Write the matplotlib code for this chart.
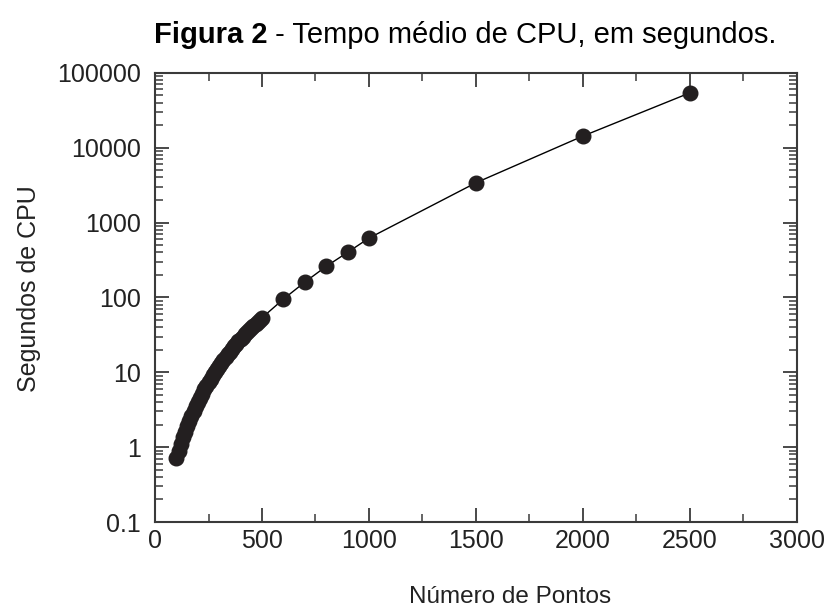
import matplotlib
matplotlib.use("Agg")
import matplotlib.pyplot as plt
from matplotlib.ticker import FixedLocator, FixedFormatter, LogLocator, NullFormatter, MultipleLocator

plt.rcParams['font.family'] = ['Liberation Sans', 'DejaVu Sans']

# dense part of the curve, 100..500 step 10
pontos_densos = list(range(100, 510, 10))
cpu_densos = [0.72, 0.9, 1.1, 1.35, 1.6, 1.9, 2.25, 2.6, 3.0, 3.5,
              4.0, 4.6, 5.2, 5.9, 6.6, 7.4, 8.2, 9.1, 10.1, 11.1,
              12.2, 13.4, 14.6, 16.0, 17.4, 18.9, 20.5, 22.2, 24.0, 25.9,
              27.9, 30.0, 32.2, 34.5, 36.9, 39.4, 42.0, 44.7, 47.5, 50.4, 53.5]
pontos_esparsos = [600, 700, 800, 900, 1000, 1500, 2000, 2500]
cpu_esparsos = [95, 160, 260, 400, 620, 3400, 14300, 54000]

pontos = pontos_densos + pontos_esparsos
cpu = cpu_densos + cpu_esparsos

y_ticks = [0.1, 1, 10, 100, 1000, 10000, 100000]
y_labels = ['0.1', '1', '10', '100', '1000', '10000', '100000']

fig = plt.figure(figsize=(8.26, 6.12), dpi=100)
ax = fig.add_axes([0.1877, 0.147, 0.777, 0.734])

ax.plot(pontos, cpu, color='black', lw=1, marker='o', ms=10.5,
        markerfacecolor='#231f20', markeredgecolor='#231f20')

ax.set_yscale('log')
ax.set_xlim(0, 3000)
ax.set_ylim(0.1, 100000)
ax.xaxis.set_major_locator(MultipleLocator(500))
ax.xaxis.set_minor_locator(MultipleLocator(250))
ax.yaxis.set_major_locator(FixedLocator(y_ticks))
ax.yaxis.set_major_formatter(FixedFormatter(y_labels))
ax.yaxis.set_minor_locator(LogLocator(base=10, subs=range(2, 10)))
ax.yaxis.set_minor_formatter(NullFormatter())

for s in ax.spines.values():
    s.set_linewidth(1.5)
    s.set_color('#3a3a3a')
ax.tick_params(which='both', direction='in', top=True, right=True, colors='#3a3a3a',
               labelcolor='#222222', labelsize=18)
ax.tick_params(which='major', length=10, width=1.3)
ax.tick_params(which='minor', length=6, width=1.1)
ax.tick_params(axis='y', which='major', pad=10)
ax.tick_params(axis='x', which='major', pad=5)

ax.set_xlabel('Número de Pontos', fontsize=17.5, labelpad=24, color='#222222')
ax.xaxis.label.set_x(0.553)
ax.set_ylabel('Segundos de CPU', fontsize=18, labelpad=12, color='#222222')
ax.yaxis.label.set_y(0.52)

# title: bold part + regular part, placed side by side
fig.canvas.draw()
r = fig.canvas.get_renderer()
t1 = fig.text(0, 0.93, 'Figura 2', fontsize=21, fontweight='bold', va='baseline')
t2 = fig.text(0, 0.93, ' - Tempo médio de CPU, em segundos.', fontsize=21, va='baseline')
w1 = t1.get_window_extent(r).width / fig.bbox.width
w2 = t2.get_window_extent(r).width / fig.bbox.width
x0 = 0.563 - (w1 + w2) / 2
t1.set_x(x0)
t2.set_x(x0 + w1)

fig.savefig('out.png', dpi=100)
